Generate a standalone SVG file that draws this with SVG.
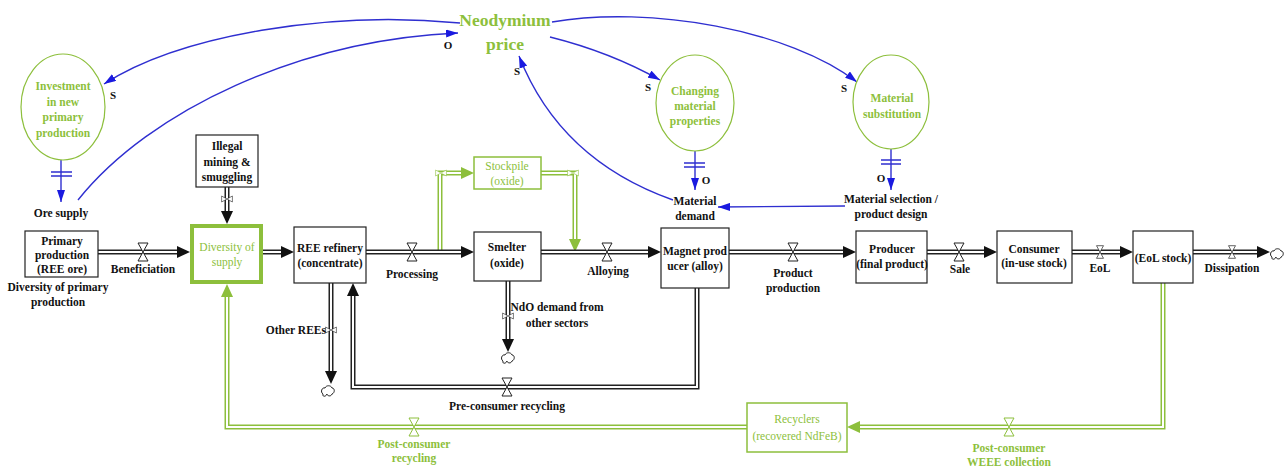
<svg xmlns="http://www.w3.org/2000/svg" xmlns:xlink="http://www.w3.org/1999/xlink" width="1287" height="467" viewBox="0 0 1287 467">
<style>
text{font-family:"Liberation Serif","Times New Roman",serif;font-size:11.5px;font-weight:bold;fill:#111;text-anchor:middle}
.g{fill:#8dbf3c}
.n{font-weight:normal}
.box{fill:#fff;stroke:#222;stroke-width:1.2}
.gbox{fill:#fff;stroke:#8dbf3c;stroke-width:1.5}
.ell{fill:#fff;stroke:#8dbf3c;stroke-width:1.2}
.po{fill:none;stroke:#222;stroke-width:5}
.pi{fill:none;stroke:#fff;stroke-width:2}
.gpo{fill:none;stroke:#8dbf3c;stroke-width:5}
.link{fill:none;stroke:#2f2fd0;stroke-width:1.4}
.bar{stroke:#2f2fd0;stroke-width:1.4}
.pol{font-size:11px}
</style>
<defs>
<marker id="ba" viewBox="0 0 12 8" refX="12" refY="4" markerWidth="12" markerHeight="8" orient="auto" markerUnits="userSpaceOnUse"><path d="M0,0 L12,4 L0,8 Z" fill="#1a1ae0"/></marker>
<path id="pa" d="M-13,-6 L0,0 L-13,6 Z" fill="#111"/>
<path id="gpa" d="M-13,-6 L0,0 L-13,6 Z" fill="#8dbf3c"/>
<path id="valve" d="M-5,-9 H5 L-5,9 H5 Z" fill="#fff" stroke="#222" stroke-width="1"/>
<path id="gvalve" d="M-5,-9 H5 L-5,9 H5 Z" fill="#fff" stroke="#8dbf3c" stroke-width="1"/>
<path id="cloud" d="M-5,3 C-8,1 -6,-4 -3,-3 C-2,-6 3,-6 4,-3 C7,-3 7,2 4,3 C3,6 -1,5 -1,3 C-2,6 -6,6 -5,3 Z" fill="#fff" stroke="#222" stroke-width="1"/>
</defs>
<rect width="1287" height="467" fill="#fff"/>

<g id="connectors">
  <!-- green pipes -->
  <path class="gpo" d="M440,252 V173 H462"/>
  <path class="pi" d="M440,252 V173 H462"/>
  <path class="gpo" d="M541,173 H575 V240"/>
  <path class="pi" d="M541,173 H575 V240"/>
  <path class="gpo" d="M1163,283 V427 H860"/>
  <path class="pi" d="M1163,283 V427 H860"/>
  <path class="gpo" d="M747,427 H227 V297"/>
  <path class="pi" d="M747,427 H227 V297"/>
  <use xlink:href="#gpa" transform="translate(474,173)"/>
  <use xlink:href="#gpa" transform="translate(575,252) rotate(90)"/>
  <use xlink:href="#gpa" transform="translate(847,427) rotate(180)"/>
  <use xlink:href="#gpa" transform="translate(227,284) rotate(-90)"/>
  <use xlink:href="#gvalve" transform="translate(441,173) rotate(90) scale(0.6)"/>
  <use xlink:href="#gvalve" transform="translate(573,173) rotate(90) scale(0.6)"/>
  <use xlink:href="#gvalve" transform="translate(1009,427)"/>
  <use xlink:href="#gvalve" transform="translate(414,427)"/>

  <!-- black pipes -->
  <path class="po" d="M98,252 H178 M263,252 H282 M366,252 H462 M541,252 H649 M729,252 H844 M927,252 H985 M1072,252 H1121 M1193,252 H1258"/>
  <path class="pi" d="M98,252 H178 M263,252 H282 M366,252 H462 M541,252 H649 M729,252 H844 M927,252 H985 M1072,252 H1121 M1193,252 H1258"/>
  <path class="po" d="M227,187 V212 M331,283 V372 M508,281 V340 M697,288 V387 H353 V296"/>
  <path class="pi" d="M227,187 V212 M331,283 V372 M508,281 V340 M697,288 V387 H353 V296"/>
  <use xlink:href="#pa" transform="translate(190,252)"/>
  <use xlink:href="#pa" transform="translate(294,252)"/>
  <use xlink:href="#pa" transform="translate(474,252)"/>
  <use xlink:href="#pa" transform="translate(661,252)"/>
  <use xlink:href="#pa" transform="translate(856,252)"/>
  <use xlink:href="#pa" transform="translate(997,252)"/>
  <use xlink:href="#pa" transform="translate(1133,252)"/>
  <use xlink:href="#pa" transform="translate(1270,252)"/>
  <use xlink:href="#pa" transform="translate(227,224) rotate(90)"/>
  <use xlink:href="#pa" transform="translate(331,384) rotate(90)"/>
  <use xlink:href="#pa" transform="translate(508,352) rotate(90)"/>
  <use xlink:href="#pa" transform="translate(353,283) rotate(-90)"/>
  <use xlink:href="#valve" transform="translate(143,252)"/>
  <use xlink:href="#valve" transform="translate(412,252)"/>
  <use xlink:href="#valve" transform="translate(607,252)"/>
  <use xlink:href="#valve" transform="translate(793,252)"/>
  <use xlink:href="#valve" transform="translate(959,252)"/>
  <use xlink:href="#valve" transform="translate(1100,252) scale(0.7)"/>
  <use xlink:href="#valve" transform="translate(1232,252) scale(0.7)"/>
  <use xlink:href="#valve" transform="translate(507,387)"/>
  <use xlink:href="#valve" transform="translate(227,199) rotate(90) scale(0.6)"/>
  <use xlink:href="#valve" transform="translate(331,330) rotate(90) scale(0.6)"/>
  <use xlink:href="#valve" transform="translate(508,316) rotate(90) scale(0.6)"/>
  <use xlink:href="#cloud" transform="translate(328,391)"/>
  <use xlink:href="#cloud" transform="translate(508,358)"/>
  <use xlink:href="#cloud" transform="translate(1277,254)"/>

  <!-- influence links -->
  <path class="link" d="M460,23 C330,10 180,35 104,84" marker-end="url(#ba)"/>
  <path class="link" d="M78,200 C150,110 300,40 458,33" marker-end="url(#ba)"/>
  <path class="link" d="M61,160 V202" marker-end="url(#ba)"/>
  <path class="bar" d="M51,172 H72 M51,176 H72"/>
  <path class="link" d="M550,37 Q610,52 660,80" marker-end="url(#ba)"/>
  <path class="link" d="M552,22 C650,5 790,30 857,82" marker-end="url(#ba)"/>
  <path class="link" d="M673,200 Q560,160 519,56" marker-end="url(#ba)"/>
  <path class="link" d="M695,151 V190" marker-end="url(#ba)"/>
  <path class="bar" d="M684,163 H705 M684,167 H705"/>
  <path class="link" d="M891,149 V190" marker-end="url(#ba)"/>
  <path class="bar" d="M881,160 H901 M881,164 H901"/>
  <path class="link" d="M845,206 L718,207" marker-end="url(#ba)"/>
  <text class="pol" x="113" y="99">S</text>
  <text class="pol" x="448" y="49">O</text>
  <text class="pol" x="517" y="75">S</text>
  <text class="pol" x="648" y="91">S</text>
  <text class="pol" x="844" y="92">S</text>
  <text class="pol" x="706" y="184">O</text>
  <text class="pol" x="881" y="182">O</text>

  <!-- flow labels -->
  <text x="143" y="273">Beneficiation</text>
  <text x="412" y="278">Processing</text>
  <text x="608" y="275">Alloying</text>
  <text x="793" y="277">Product</text>
  <text x="793" y="292">production</text>
  <text x="960" y="273">Sale</text>
  <text x="1100" y="272">EoL</text>
  <text x="1232" y="272">Dissipation</text>
  <text x="326" y="334" style="text-anchor:end">Other REEs</text>
  <text x="557" y="311">NdO demand from</text>
  <text x="557" y="327">other sectors</text>
  <text x="507" y="410">Pre-consumer recycling</text>
  <text class="g" x="414" y="448">Post-consumer</text>
  <text class="g" x="414" y="462">recycling</text>
  <text class="g" x="1009" y="452">Post-consumer</text>
  <text class="g" x="1009" y="466">WEEE collection</text>
</g>

<g id="neodymium-price">
  <text class="g" x="505" y="26" style="font-size:17.5px">Neodymium</text>
  <text class="g" x="505" y="50" style="font-size:17.5px">price</text>
</g>
<g id="investment">
  <ellipse class="ell" cx="63" cy="107" rx="42" ry="53"/>
  <text class="g" x="63" y="90">Investment</text>
  <text class="g" x="63" y="106">in new</text>
  <text class="g" x="63" y="121">primary</text>
  <text class="g" x="63" y="137">production</text>
</g>
<g id="changing-material">
  <ellipse class="ell" cx="695" cy="103" rx="39" ry="48"/>
  <text class="g" x="695" y="95">Changing</text>
  <text class="g" x="695" y="110">material</text>
  <text class="g" x="695" y="125">properties</text>
</g>
<g id="material-substitution">
  <ellipse class="ell" cx="891" cy="102" rx="38" ry="47"/>
  <text class="g" x="892" y="102">Material</text>
  <text class="g" x="892" y="118">substitution</text>
</g>
<g id="ore-supply"><text x="61" y="217">Ore supply</text></g>
<g id="material-demand">
  <text x="695" y="205">Material</text>
  <text x="695" y="220">demand</text>
</g>
<g id="material-selection">
  <text x="891" y="203">Material selection /</text>
  <text x="891" y="218">product design</text>
</g>
<g id="primary-production">
  <rect class="box" x="25" y="231" width="73" height="46"/>
  <text x="62" y="245">Primary</text>
  <text x="62" y="259">production</text>
  <text x="62" y="273">(REE ore)</text>
  <text x="58" y="291">Diversity of primary</text>
  <text x="58" y="306">production</text>
</g>
<g id="illegal-mining">
  <rect class="box" x="196" y="135" width="62" height="52"/>
  <text x="227" y="150">Illegal</text>
  <text x="227" y="166">mining &amp;</text>
  <text x="227" y="181">smuggling</text>
</g>
<g id="diversity-of-supply">
  <rect x="192" y="226" width="69" height="56" fill="#fff" stroke="#8dbf3c" stroke-width="4"/>
  <text class="g n" x="227" y="251">Diversity of</text>
  <text class="g n" x="227" y="266">supply</text>
</g>
<g id="ree-refinery">
  <rect class="box" x="294" y="227" width="72" height="56"/>
  <text x="330" y="252">REE refinery</text>
  <text x="330" y="267">(concentrate)</text>
</g>
<g id="stockpile">
  <rect class="gbox" x="474" y="157" width="67" height="32"/>
  <text class="g n" x="507" y="170">Stockpile</text>
  <text class="g n" x="507" y="185">(oxide)</text>
</g>
<g id="smelter">
  <rect class="box" x="474" y="232" width="67" height="49"/>
  <text x="507" y="251">Smelter</text>
  <text x="507" y="267">(oxide)</text>
</g>
<g id="magnet-producer">
  <rect class="box" x="661" y="228" width="68" height="60"/>
  <text x="695" y="255">Magnet prod</text>
  <text x="695" y="270">ucer (alloy)</text>
</g>
<g id="producer">
  <rect class="box" x="856" y="231" width="71" height="52"/>
  <text x="892" y="253">Producer</text>
  <text x="892" y="268">(final product)</text>
</g>
<g id="consumer">
  <rect class="box" x="997" y="231" width="75" height="52"/>
  <text x="1034" y="253">Consumer</text>
  <text x="1034" y="267">(in-use stock)</text>
</g>
<g id="eol-stock">
  <rect class="box" x="1133" y="231" width="60" height="52"/>
  <text x="1163" y="262">(EoL stock)</text>
</g>
<g id="recyclers">
  <rect class="gbox" x="747" y="403" width="100" height="49"/>
  <text class="g n" x="797" y="423">Recyclers</text>
  <text class="g n" x="797" y="440">(recovered NdFeB)</text>
</g>
</svg>
